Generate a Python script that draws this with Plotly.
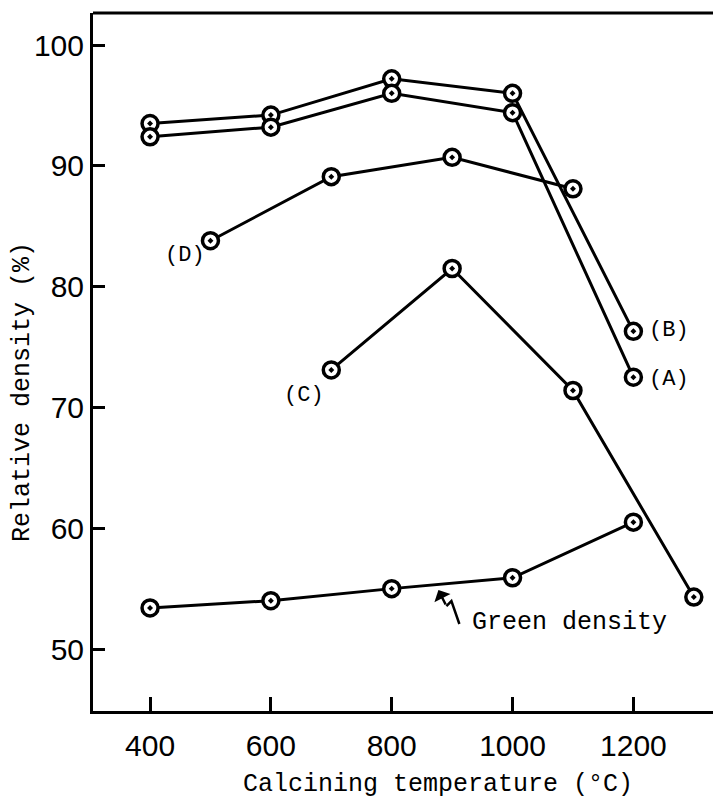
import plotly.graph_objects as go

temps_ab = [400, 600, 800, 1000, 1200]
series_b = [93.5, 94.2, 97.2, 96.0, 76.3]
series_a = [92.4, 93.2, 96.0, 94.4, 72.5]
temps_d = [500, 700, 900, 1100]
series_d = [83.8, 89.1, 90.7, 88.1]
temps_c = [700, 900, 1100, 1300]
series_c = [73.1, 81.5, 71.4, 54.3]
temps_g = [400, 600, 800, 1000, 1200]
series_g = [53.4, 54.0, 55.0, 55.9, 60.5]

x_ticks = [400, 600, 800, 1000, 1200]
y_ticks = [50, 60, 70, 80, 90, 100]

mono = "Liberation Mono, Courier New, monospace"
sans = "Liberation Sans Narrow, Liberation Sans, Arial, sans-serif"

fig = go.Figure()
marker = dict(symbol="circle-dot", size=16, color="white",
              line=dict(color="black", width=3.5))
for xs, ys in [(temps_ab, series_b), (temps_ab, series_a), (temps_d, series_d),
               (temps_c, series_c), (temps_g, series_g)]:
    fig.add_trace(go.Scatter(x=xs, y=ys, mode="lines+markers",
                             line=dict(color="black", width=3),
                             marker=marker, showlegend=False))

ann_font = dict(family=mono, size=22, color="black")
fig.add_annotation(x=458, y=82.6, text="(D)", showarrow=False, font=ann_font)
fig.add_annotation(x=654, y=71.0, text="(C)", showarrow=False, font=ann_font)
fig.add_annotation(x=1222, y=76.4, text="(B)", showarrow=False, font=ann_font, xanchor="left")
fig.add_annotation(x=1222, y=72.3, text="(A)", showarrow=False, font=ann_font, xanchor="left")
fig.add_annotation(x=929, y=52.2, text="Green density", showarrow=False,
                   font=dict(family=mono, size=25, color="black"), xanchor="left")
fig.add_annotation(x=877.3, y=54.88, ax=890.5, ay=53.56, axref="x", ayref="y",
                   text="", showarrow=True, arrowhead=1, arrowsize=1.2, arrowwidth=2.5,
                   arrowcolor="black")
fig.add_shape(type="path", xref="x", yref="y",
              path="M 890.5 53.56 L 898.8 53.97 L 912 52.07",
              line=dict(color="black", width=2.5))

fig.add_shape(type="line", xref="paper", yref="paper", x0=0, x1=1, y0=1, y1=1,
              line=dict(color="black", width=3))

title_font = dict(family=mono, size=25, color="black")
fig.add_annotation(xref="paper", yref="paper", x=0.549, y=-0.106,
                   xanchor="center", yanchor="middle",
                   text="Calcining temperature (°C)", showarrow=False, font=title_font)
fig.add_annotation(xref="paper", yref="paper", x=-0.113, y=0.457, textangle=-90,
                   xanchor="center", yanchor="middle",
                   text="Relative density (%)", showarrow=False, font=title_font)

fig.update_layout(
    width=713, height=793,
    margin=dict(l=85, r=0, t=5, b=90),
    plot_bgcolor="white", paper_bgcolor="white",
    xaxis=dict(range=[305.6, 1345], tickvals=x_ticks, ticks="inside", ticklen=14,
               tickwidth=3, tickcolor="black", showgrid=False, zeroline=False,
               showline=True, linecolor="black", linewidth=3, ticklabelstandoff=6,
               tickfont=dict(family=sans, size=30, color="black")),
    yaxis=dict(range=[44.87, 102.65], tickvals=y_ticks, ticks="inside", ticklen=12,
               tickwidth=3, tickcolor="black", showgrid=False, zeroline=False,
               showline=True, linecolor="black", linewidth=3,
               tickfont=dict(family=sans, size=30, color="black")),
)

fig.write_html("out.html")
